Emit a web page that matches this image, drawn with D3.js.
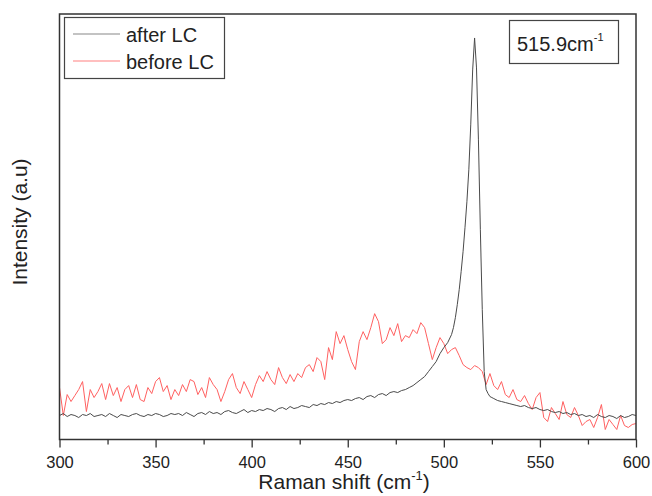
<!DOCTYPE html>
<html>
<head>
<meta charset="utf-8">
<script src="https://cdn.jsdelivr.net/npm/d3@7"></script>
<style>
  body { margin: 0; background: #fff; }
  svg text { font-family: "Liberation Sans", Arial, sans-serif; fill: #222; }
</style>
</head>
<body>
<div id="chart"></div>
<script>
// after LC (black) - raman shift positions, finer around the peak
var shiftAfter = [
  300,302,304,306,308,310,312,314,316,318,320,322,324,326,328,330,332,334,336,338,340,342,344,346,348,350,352,354,356,358,360,
  362,364,366,368,370,372,374,376,378,380,382,384,386,388,390,392,394,396,398,400,
  402,404,406,408,410,412,414,416,418,420,422,424,426,428,430,432,434,436,438,440,442,444,446,448,450,
  452,454,456,458,460,462,464,466,468,470,472,474,476,478,480,
  482,484,486,488,490,492,494,496,498,500,502,504,
  505,506,507,508,509,510,511,512,513,514,515,516,517,518,519,520,521,522,523,524,525,
  526,528,530,532,534,536,538,540,542,544,546,548,550,552,554,556,558,560,562,564,566,568,570,572,574,576,578,580,582,584,586,588,590,592,594,596,598,600
];
var intensityAfter = [
  24,26,23,25,24,22,25,24,26,23,24,25,23,26,24,22,25,24,23,25,26,24,23,25,24,26,25,23,24,26,25,
  26,24,27,25,23,26,27,25,28,26,27,25,28,29,27,26,28,30,27,29,
  28,30,29,31,30,28,31,32,30,33,31,32,34,33,32,35,34,36,35,37,36,38,37,39,40,
  39,41,42,40,43,44,42,45,46,44,47,48,47,49,50,
  52,54,57,60,63,68,73,78,86,92,97,105,
  112,122,135,150,168,188,212,238,270,315,370,402,372,300,210,130,68,50,46,43,42,
  41,39,38,37,36,35,34,33,34,32,31,32,30,29,30,28,27,28,26,27,25,26,24,25,23,24,22,25,23,22,24,23,21,24,22,23,25,24
];

// before LC (red) - every 2 cm-1 from 300 to 600
var shiftBefore = d3.range(300, 601, 2);
var intensityBefore = [
  52,24,45,38,44,50,58,28,50,42,48,56,40,56,44,52,38,50,54,42,55,40,38,52,46,58,62,48,54,40,50,
  44,55,48,60,58,45,52,42,62,55,50,38,48,60,66,52,46,58,50,42,55,64,58,68,60,55,72,62,56,65,
  58,66,62,72,75,68,82,78,60,92,80,108,96,104,90,78,70,98,108,100,112,126,118,96,100,112,104,116,98,104,
  102,110,106,117,112,96,80,92,102,96,86,90,92,84,75,72,70,74,72,68,55,66,54,50,58,45,42,50,40,38,
  44,36,30,42,47,22,18,32,26,20,38,25,22,32,24,14,18,20,12,22,35,10,20,15,10,24,14,12,15,16
];

var xTicks = [300, 350, 400, 450, 500, 550, 600];
var legendLabels = ["after LC", "before LC"];
var seriesColors = ["#4a4a4a", "#ff6060"];

var width = 652, height = 496;
var plotLeft = 59.5, plotRight = 636, plotTop = 14, plotBottom = 439.5;

var svg = d3.select("#chart").append("svg")
    .attr("width", width)
    .attr("height", height);

var x = d3.scaleLinear().domain([300, 600]).range([plotLeft, plotRight]);
var y = d3.scaleLinear().domain([0, 426]).range([plotBottom, plotTop]);

var line = d3.line()
    .x(function(d){ return x(d[0]); })
    .y(function(d){ return y(d[1]); });

var series = [
  d3.zip(shiftAfter, intensityAfter),
  d3.zip(shiftBefore, intensityBefore)
];

// clip lines to the frame
svg.append("clipPath").attr("id", "clip")
  .append("rect").attr("x", plotLeft).attr("y", plotTop)
  .attr("width", plotRight - plotLeft).attr("height", plotBottom - plotTop);

// red first so black sits on top like the original
svg.append("path")
    .datum(series[1])
    .attr("clip-path", "url(#clip)")
    .attr("fill", "none")
    .attr("stroke", seriesColors[1])
    .attr("stroke-width", 1)
    .attr("d", line);

svg.append("path")
    .datum(series[0])
    .attr("clip-path", "url(#clip)")
    .attr("fill", "none")
    .attr("stroke", seriesColors[0])
    .attr("stroke-width", 1)
    .attr("d", line);

// frame
svg.append("rect")
    .attr("x", plotLeft).attr("y", plotTop)
    .attr("width", plotRight - plotLeft).attr("height", plotBottom - plotTop)
    .attr("fill", "none")
    .attr("stroke", "#333")
    .attr("stroke-width", 1.5);

// minor ticks
var minorAxis = d3.axisBottom(x).tickValues(d3.range(325, 600, 50)).tickSize(5).tickFormat("");
svg.append("g").attr("transform", "translate(0," + plotBottom + ")").call(minorAxis)
  .call(function(g){ g.select(".domain").remove(); g.selectAll("line").attr("stroke", "#333").attr("stroke-width", 1.3); });

// major ticks + labels
var xAxis = d3.axisBottom(x).tickValues(xTicks).tickSize(8).tickPadding(9).tickFormat(d3.format("d"));
svg.append("g").attr("transform", "translate(0," + plotBottom + ")").call(xAxis)
  .call(function(g){
    g.select(".domain").remove();
    g.selectAll("line").attr("stroke", "#333").attr("stroke-width", 1.3);
    g.selectAll("text").attr("font-size", 16.5).attr("fill", "#222")
      .attr("font-family", "Liberation Sans, Arial, sans-serif");
  });

// axis titles
var xt = svg.append("text")
    .attr("x", 344).attr("y", 489)
    .attr("text-anchor", "middle")
    .attr("font-size", 21);
xt.append("tspan").text("Raman shift (cm");
xt.append("tspan").attr("font-size", 13).attr("dy", -9).text("-1");
xt.append("tspan").attr("dy", 9).text(")");

svg.append("text")
    .attr("transform", "translate(27,222) rotate(-90)")
    .attr("text-anchor", "middle")
    .attr("font-size", 21)
    .text("Intensity (a.u)");

// legend
var legend = svg.append("g");
legend.append("rect")
    .attr("x", 64.5).attr("y", 17.5).attr("width", 160).attr("height", 61)
    .attr("fill", "#fff").attr("stroke", "#444").attr("stroke-width", 1.2);
legendLabels.forEach(function(label, i){
  var ly = 34 + i * 27;
  legend.append("line")
      .attr("x1", 73).attr("x2", 120).attr("y1", ly).attr("y2", ly)
      .attr("stroke", i === 0 ? "#888" : "#ff8080").attr("stroke-width", 1.2);
  legend.append("text")
      .attr("x", 126).attr("y", ly + 7.5)
      .attr("font-size", 20)
      .text(label);
});

// peak label
svg.append("rect")
    .attr("x", 509.5).attr("y", 20.5).attr("width", 109).attr("height", 43)
    .attr("fill", "#fff").attr("stroke", "#444").attr("stroke-width", 1.2);
var pk = svg.append("text")
    .attr("x", 517).attr("y", 50.5)
    .attr("font-size", 20);
pk.append("tspan").text("515.9cm");
pk.append("tspan").attr("font-size", 11).attr("dy", -10).text("-1");
</script>
</body>
</html>
